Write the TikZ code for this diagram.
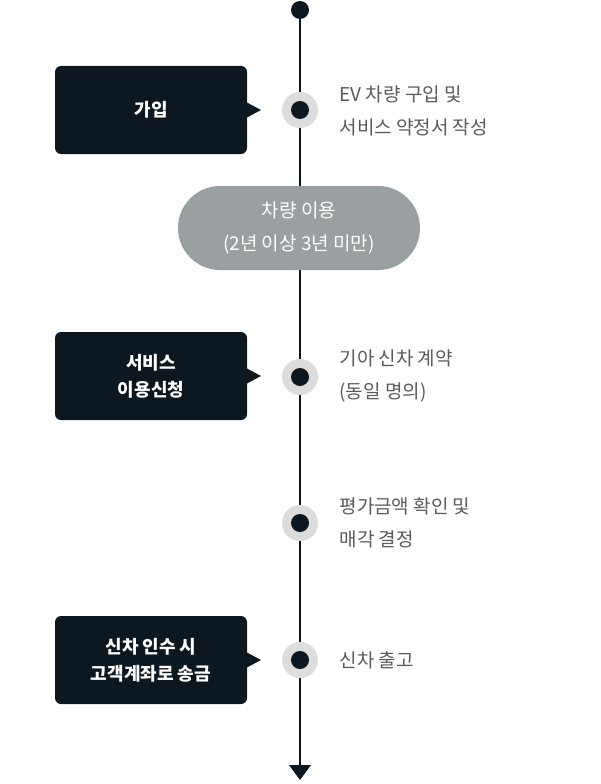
\documentclass[tikz,border=0pt]{standalone}
\usepackage{fontspec}
\setmainfont{Noto Sans CJK KR}
\newfontfamily\krbold{Noto Sans CJK KR Bold}
\begin{document}
\begin{tikzpicture}[x=1pt,y=-1pt,
  dk/.style={fill=navy},
  box/.style={fill=navy,rounded corners=6pt,minimum width=192pt,minimum height=88pt,text=white,font=\bfseries\fontsize{18}{27}\selectfont,align=center},
  halo/.style={circle,fill=halo,minimum size=36pt,inner sep=0},
  dot/.style={circle,fill=navy,minimum size=18pt,inner sep=0},
  lab/.style={anchor=west,text=txt,font=\fontsize{19}{33}\selectfont,align=left}]
\definecolor{navy}{HTML}{0D1720}
\definecolor{halo}{HTML}{DCDCDC}
\definecolor{txt}{HTML}{5A5A5A}
\definecolor{pill}{HTML}{9A9FA1}
\useasboundingbox (0,0) rectangle (600,784);
\coordinate (top) at (300,10);
\coordinate (bot) at (300,778);
\draw[navy,line width=2pt] (top) -- (300,765);
\fill[navy] (289,765) -- (311,765) -- (300,780) -- cycle;
\node[dot] (d0) at (top) {};
\foreach \n/\y in {a/110,b/377,c/523,d/660}{
  \node[halo] (h\n) at (300,\y) {};
  \node[dot] (d\n) at (300,\y) {};
}
\node[box] (b1) at (151,110) {가입};
\node[box] (b2) at (151,376) {서비스\\이용신청};
\node[box] (b3) at (151,660) {신차 인수 시\\고객계좌로 송금};
\foreach \b/\y in {b1/110,b2/376,b3/660}
  \fill[navy] (246,\y-8) -- (261,\y) -- (246,\y+8) -- cycle;
\node[fill=pill,rounded corners=42pt,minimum width=242pt,minimum height=84pt,text=white,font=\fontsize{19}{33}\selectfont,align=center] (p) at (299,228) {차량 이용\\(2년 이상 3년 미만)};
\node[lab] (t1) at (336,111) {EV 차량 구입 및\\서비스 약정서 작성};
\node[lab] (t2) at (336,376) {기아 신차 계약\\(동일 명의)};
\node[lab] (t3) at (336,523) {평가금액 확인 및\\매각 결정};
\node[lab] (t4) at (336,660) {신차 출고};
\end{tikzpicture}
\end{document}
